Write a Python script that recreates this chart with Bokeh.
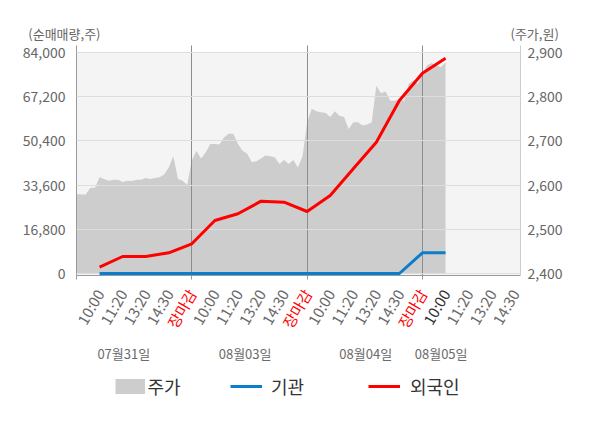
from bokeh.plotting import figure
from bokeh.models import (Range1d, LinearAxis, FixedTicker, NumeralTickFormatter,
                          Legend, LegendItem, BoxAnnotation)
from bokeh.core.properties import value
from bokeh.layouts import column
from bokeh.embed import file_html
from bokeh.resources import INLINE

FONT = "Noto Sans CJK KR"

# ---- data -------------------------------------------------------------
# price (주가, 원) sampled every 0.2 of a tick slot, from the open of 07/31
price = [2580, 2579, 2579, 2594, 2594, 2618, 2614, 2610, 2612, 2612,
         2607, 2610, 2609, 2612, 2612, 2616, 2614, 2616, 2618, 2624,
         2640, 2665, 2614, 2610, 2601,
         2656, 2678, 2660, 2674, 2693, 2693, 2692, 2708, 2716, 2716,
         2693, 2678, 2671, 2652, 2654, 2660, 2667, 2665, 2663, 2648,
         2657, 2648, 2657, 2640, 2665,
         2742, 2773, 2767, 2765, 2763, 2754, 2767, 2757, 2754, 2727,
         2742, 2742, 2735, 2737, 2742, 2825, 2808, 2812, 2791, 2791,
         2795, 2790, 2829, 2837, 2829,
         2852, 2871, 2876, 2871, 2867, 2878]
price_step = 0.2

# cumulative net buying (순매매량, 주) at each tick slot
flow_slot = [1, 2, 3, 4, 5, 6, 7, 8, 9, 10, 11, 12, 13, 14, 15, 16]
foreign = [2400, 6460, 6460, 7870, 11290, 20150, 22690, 27490, 27100, 23570,
           29650, 39800, 49900, 65760, 76140, 81840]
institution = [0, 0, 0, 0, 0, 0, 0, 0, 0, 0, 0, 0, 0, 0, 7870, 7870]

tick_labels = ["10:00", "11:20", "13:20", "14:30", "장마감",
               "10:00", "11:20", "13:20", "14:30", "장마감",
               "10:00", "11:20", "13:20", "14:30", "장마감",
               "10:00", "11:20", "13:20", "14:30"]
tick_slot = list(range(1, 20))
day_labels = ["07월31일", "08월03일", "08월04일", "08월05일"]
day_label_slot = [2.05, 7.31, 12.54, 15.81]
day_bounds = [0, 5, 10, 15]

left_ticks = [0, 16800, 33600, 50400, 67200, 84000]
right_ticks = [2400, 2500, 2600, 2700, 2800, 2900]
left_title = "(순매매량,주)"
right_title = "(주가,원)"

# ---- layout constants -------------------------------------------------
W, H = 592, 428
L_BORDER, R_BORDER = 76, 72
TOP_H = 43
MAIN_TOP, FRAME_H, MAIN_BOTTOM = 2, 230, 10
BOT_H = H - TOP_H - MAIN_TOP - FRAME_H - MAIN_BOTTOM
xr = Range1d(0, 19.25)

# ---- top strip: axis titles -------------------------------------------
top = figure(width=W, height=TOP_H, output_backend="svg", toolbar_location=None,
             x_range=xr, y_range=Range1d(0, TOP_H), x_axis_location=None,
             min_border_left=L_BORDER, min_border_right=R_BORDER,
             min_border_top=0, min_border_bottom=0, outline_line_color=None)
top.grid.visible = False
top.yaxis.ticker = FixedTicker(ticks=[10])
top.yaxis.major_label_overrides = {10: left_title}
t_right = LinearAxis(ticker=FixedTicker(ticks=[10]),
                     major_label_overrides={10: right_title})
top.add_layout(t_right, "right")
for ax in (top.yaxis[0], t_right):
    ax.axis_line_color = None
    ax.major_tick_line_color = None
    ax.minor_tick_line_color = None
    ax.major_tick_out = 0
    ax.major_tick_in = 0
    ax.major_label_text_color = "#666666"
    ax.major_label_text_font = FONT
    ax.major_label_text_font_size = "13px"
top.yaxis[0].major_label_standoff = -24
t_right.major_label_standoff = -10

# ---- main chart -------------------------------------------------------
p = figure(width=W, height=MAIN_TOP + FRAME_H + MAIN_BOTTOM, output_backend="svg",
           toolbar_location=None, x_range=xr, y_range=Range1d(-760, 86661),
           min_border_left=L_BORDER, min_border_right=R_BORDER,
           min_border_top=MAIN_TOP, min_border_bottom=MAIN_BOTTOM)
p.outline_line_color = None
p.extra_y_ranges = {"price": Range1d(2395.48, 2915.84)}

bg = BoxAnnotation(top=84000, fill_color="#f4f4f4", fill_alpha=1.0,
                   line_color=None, level="image")
p.add_layout(bg)

px = [i * price_step for i in range(len(price))]
base = [right_ticks[0]] * len(price)
p.varea(x=px, y1=base, y2=price, fill_color="#cdcdcd", y_range_name="price")

blue = p.line(flow_slot, institution, line_color="#0a7dcc", line_width=3)
red = p.line(flow_slot, foreign, line_color="#ff0000", line_width=3)
blue.level = "overlay"
red.level = "overlay"

p.yaxis.ticker = FixedTicker(ticks=left_ticks)
p.yaxis.formatter = NumeralTickFormatter(format="0,0")
ra = LinearAxis(y_range_name="price", ticker=FixedTicker(ticks=right_ticks),
                formatter=NumeralTickFormatter(format="0,0"))
p.add_layout(ra, "right")
for ax in (p.yaxis[0], ra):
    ax.major_tick_line_color = None
    ax.major_tick_out = 0
    ax.major_tick_in = 0
    ax.minor_tick_line_color = None
    ax.major_label_text_color = "#666666"
    ax.major_label_text_font = FONT
    ax.major_label_text_font_size = "14px"
p.yaxis[0].axis_line_color = "#999999"
ra.axis_line_color = "#cccccc"
p.yaxis[0].major_label_standoff = 11
ra.major_label_standoff = 7

# x axis: only short marks at the day boundaries, labels are drawn below
p.xaxis.ticker = FixedTicker(ticks=[], minor_ticks=day_bounds)
p.xaxis.axis_line_color = "#999999"
p.xaxis.major_tick_line_color = None
p.xaxis.minor_tick_line_color = "#999999"
p.xaxis.minor_tick_out = 4
p.xaxis.minor_tick_in = 0
p.xaxis.major_tick_out = 0
p.xaxis.major_label_standoff = 0

p.ygrid.ticker = FixedTicker(ticks=left_ticks)
p.ygrid.grid_line_color = "#dddddd"
p.ygrid.level = "guide"
p.xgrid.ticker = FixedTicker(ticks=day_bounds[1:])
p.xgrid.grid_line_color = "#8c8c8c"
p.xgrid.level = "guide"

# ---- bottom strip: time labels, dates, legend --------------------------
bot = figure(width=W, height=BOT_H, output_backend="svg", toolbar_location=None,
             x_range=xr, y_range=Range1d(0, BOT_H),
             x_axis_location=None, y_axis_location=None,
             min_border_left=L_BORDER, min_border_right=R_BORDER,
             min_border_top=0, min_border_bottom=0, outline_line_color=None)
bot.grid.visible = False
bot.extra_y_ranges = {"hide": Range1d(-3e6, -2e6)}

tcolors = []
for i, t in enumerate(tick_labels):
    if t == "장마감":
        tcolors.append("#ff0000")
    elif i == 15:
        tcolors.append("#333333")
    else:
        tcolors.append("#6a6a6a")
bot.text(x=tick_slot, y=[H - 290] * len(tick_slot), text=tick_labels,
         text_color=tcolors, angle=60, angle_units="deg", text_align="right",
         text_baseline="middle", text_font=value(FONT), text_font_size="15px")
bot.text(x=day_label_slot, y=[H - 353] * len(day_label_slot), text=day_labels,
         text_align="center", text_baseline="middle", text_color="#6a6a6a",
         text_font=value(FONT), text_font_size="13px")

# legend keys (drawn off-screen, used only for the legend swatches)
k_price = bot.line(px, price, line_color="#cdcdcd", line_width=15,
                   line_cap="butt", y_range_name="hide")
k_inst = bot.line(flow_slot, institution, line_color="#0a7dcc", line_width=3,
                  y_range_name="hide")
k_for = bot.line(flow_slot, foreign, line_color="#ff0000", line_width=3,
                 y_range_name="hide")

LH = 30


def add_legend(label, r, x, gw, standoff):
    lg = Legend(items=[LegendItem(label=label, renderers=[r])],
                location=(x, H - 385.8 - LH / 2),
                orientation="horizontal", glyph_width=gw, glyph_height=LH,
                label_standoff=standoff, label_text_font=FONT,
                label_text_font_size="18px", label_text_color="#333333",
                background_fill_alpha=0, border_line_color=None, padding=0,
                margin=0, spacing=0, label_height=LH)
    bot.add_layout(lg, "center")


add_legend("주가", k_price, 114.5 - L_BORDER, 30, 3)
add_legend("기관", k_inst, 230 - L_BORDER, 32, 9)
add_legend("외국인", k_for, 368 - L_BORDER, 32, 10)

layout = column(top, p, bot, spacing=0)
open("out.html", "w").write(file_html(layout, INLINE))
